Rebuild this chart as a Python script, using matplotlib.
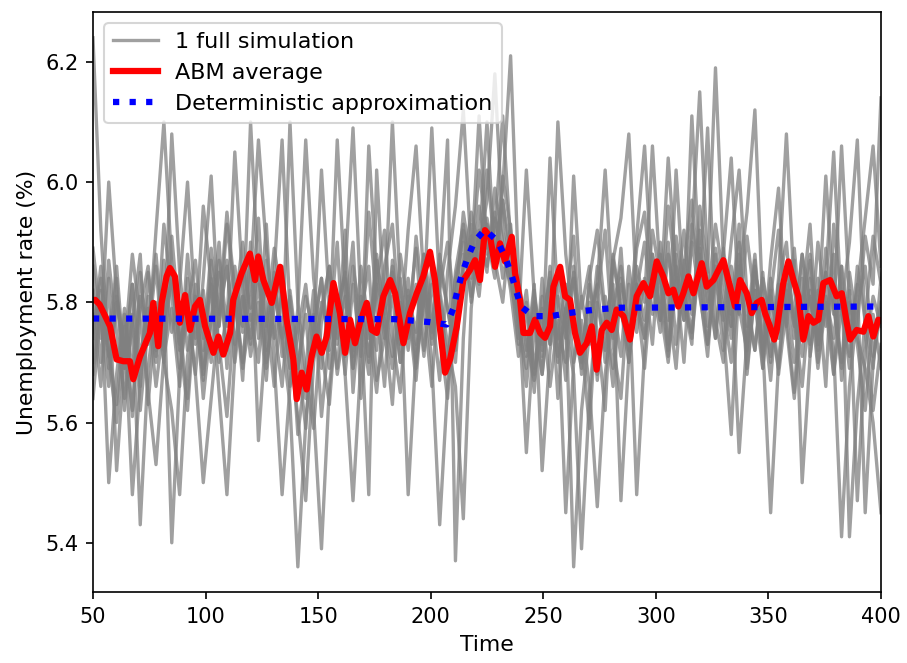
import numpy as np
import matplotlib
matplotlib.use("Agg")
import matplotlib.pyplot as plt

# time grid of the individual simulations (read every 3.5 steps)
sim_time = np.linspace(50, 400, 101)

sim_a = [6.24, 5.92, 5.71, 5.84, 5.62, 5.77, 5.66, 5.85, 5.72, 5.93,
         5.81, 5.69, 5.88, 5.74, 5.96, 5.83, 5.65, 5.48, 5.71, 5.86,
         5.79, 5.94, 5.72, 5.85, 6.07, 5.78, 5.58, 5.69, 5.82, 5.61,
         5.75, 5.90, 5.68, 5.83, 5.71, 5.95, 5.80, 5.66, 5.87, 5.74,
         5.92, 6.06, 5.83, 5.70, 5.43, 5.66, 5.79, 5.95, 5.86, 6.02,
         5.91, 5.84, 5.97, 5.88, 5.76, 5.69, 5.82, 5.71, 6.04, 5.80,
         5.67, 5.86, 5.74, 5.59, 5.81, 5.92, 5.73, 5.64, 5.83, 5.48,
         5.72, 5.88, 5.77, 5.96, 5.84, 5.70, 5.91, 6.15, 5.86, 5.74,
         5.89, 5.78, 5.93, 5.69, 5.82, 5.71, 5.87, 5.99, 5.76, 5.64,
         5.80, 5.93, 5.72, 5.85, 5.68, 5.79, 5.90, 6.07, 5.75, 5.62, 5.73]
sim_b = [5.86, 5.74, 6.00, 5.81, 5.69, 5.77, 5.88, 5.63, 5.79, 5.70,
         5.91, 5.76, 5.64, 5.83, 5.72, 5.89, 5.78, 5.95, 5.82, 5.67,
         5.90, 5.57, 5.76, 5.84, 5.71, 6.10, 5.80, 5.68, 5.59, 5.77,
         5.86, 5.73, 5.92, 5.65, 5.81, 5.70, 5.88, 5.76, 5.63, 5.84,
         5.72, 5.91, 5.79, 5.66, 5.85, 6.07, 5.37, 5.74, 5.93, 5.86,
         6.02, 5.89, 5.97, 5.84, 5.78, 5.66, 5.80, 5.72, 5.86, 5.64,
         5.79, 5.91, 5.70, 5.83, 5.75, 5.62, 5.87, 5.94, 6.08, 5.81,
         5.69, 5.85, 5.77, 5.90, 5.73, 5.86, 5.97, 5.82, 5.71, 5.88,
         5.76, 5.58, 5.84, 5.95, 6.12, 5.79, 5.67, 5.83, 5.90, 5.74,
         5.88, 5.71, 5.82, 5.66, 5.93, 5.80, 5.69, 5.86, 5.77, 5.91, 5.83]
sim_c = [5.70, 5.82, 5.50, 5.68, 5.79, 5.61, 5.85, 5.73, 5.92, 6.10,
         5.86, 5.74, 5.62, 5.80, 5.69, 5.87, 5.76, 5.93, 5.81, 5.70,
         5.84, 6.07, 5.89, 5.76, 5.66, 5.82, 5.71, 5.59, 5.78, 5.69,
         5.81, 5.68, 5.77, 5.90, 5.64, 5.79, 5.72, 5.86, 5.93, 5.75,
         5.84, 5.70, 5.80, 6.09, 5.82, 5.73, 5.66, 5.44, 5.79, 5.92,
         5.85, 5.99, 5.90, 5.82, 5.71, 5.79, 5.65, 5.84, 5.73, 6.10,
         5.88, 5.76, 5.69, 5.84, 5.92, 5.78, 5.66, 5.83, 5.74, 5.89,
         5.95, 5.81, 5.88, 5.72, 5.86, 5.79, 5.93, 5.84, 6.09, 5.77,
         5.70, 5.83, 5.55, 5.74, 5.87, 5.69, 5.81, 5.92, 5.78, 5.65,
         5.84, 5.73, 5.90, 5.79, 5.68, 5.86, 5.75, 5.82, 5.94, 6.06, 5.86]
sim_d = [5.78, 5.66, 5.84, 5.52, 5.71, 5.83, 5.62, 5.76, 5.88, 5.73,
         6.08, 5.85, 5.72, 5.81, 5.64, 5.77, 5.90, 5.69, 5.83, 5.76,
         5.88, 5.74, 5.93, 5.70, 5.48, 5.66, 5.79, 6.07, 5.84, 5.72,
         5.63, 5.80, 5.71, 5.86, 5.77, 5.68, 5.83, 5.92, 5.74, 5.65,
         5.82, 5.73, 5.88, 5.79, 5.67, 5.85, 5.96, 6.12, 5.88, 5.81,
         5.94, 5.86, 6.01, 5.92, 5.80, 5.55, 5.76, 5.68, 5.83, 5.75,
         5.70, 6.01, 5.79, 5.86, 5.67, 5.81, 5.74, 5.89, 5.70, 5.83,
         5.77, 5.92, 5.84, 5.71, 5.88, 5.80, 5.73, 5.96, 5.85, 6.19,
         5.87, 5.76, 5.90, 5.68, 5.82, 5.73, 5.45, 5.70, 5.84, 5.77,
         5.66, 5.81, 5.74, 5.89, 5.79, 5.70, 5.85, 5.76, 5.91, 5.83, 6.14]
sim_e = [5.64, 5.79, 5.71, 5.60, 5.76, 5.48, 5.67, 5.81, 5.70, 5.87,
         5.75, 5.83, 6.00, 5.78, 5.67, 5.84, 5.73, 5.61, 5.79, 5.90,
         5.77, 5.86, 5.69, 5.82, 5.74, 5.63, 5.36, 5.60, 5.75, 6.02,
         5.80, 5.69, 5.84, 5.71, 5.78, 5.86, 5.67, 5.74, 5.81, 5.70,
         5.77, 5.89, 5.72, 5.83, 5.75, 5.64, 5.81, 5.92, 5.86, 6.11,
         5.89, 5.95, 5.84, 5.91, 5.78, 5.71, 5.83, 5.52, 5.72, 5.81,
         5.74, 5.85, 5.68, 5.77, 5.83, 6.02, 5.80, 5.71, 5.86, 5.75,
         5.84, 5.73, 5.90, 5.80, 5.69, 5.87, 5.78, 5.92, 5.83, 5.74,
         5.88, 6.04, 5.79, 5.72, 5.86, 5.74, 5.82, 5.68, 5.79, 5.87,
         5.50, 5.71, 5.84, 5.76, 5.88, 5.67, 5.80, 5.73, 5.62, 5.78, 5.69]
sim_f = [5.82, 5.70, 5.87, 5.75, 5.64, 5.78, 5.43, 5.69, 5.80, 5.72,
         5.85, 5.73, 5.79, 5.68, 5.84, 6.01, 5.76, 5.87, 5.70, 5.81,
         5.73, 5.88, 5.79, 5.66, 5.83, 5.72, 5.61, 5.47, 5.70, 5.80,
         5.74, 6.07, 5.82, 5.69, 5.86, 5.76, 5.65, 5.80, 5.71, 5.88,
         5.79, 5.67, 5.84, 5.74, 5.81, 5.70, 5.85, 5.93, 5.80, 5.89,
         6.10, 5.87, 5.80, 5.93, 5.74, 5.82, 5.69, 5.79, 5.66, 5.77,
         5.45, 5.70, 5.81, 5.73, 5.86, 5.78, 5.69, 5.84, 5.76, 5.91,
         6.06, 5.83, 5.75, 5.88, 5.80, 5.92, 5.79, 5.86, 5.73, 5.84,
         5.77, 5.90, 6.02, 5.81, 5.72, 5.85, 5.70, 5.83, 5.76, 5.89,
         5.74, 5.82, 5.69, 5.80, 5.72, 5.41, 5.66, 5.79, 5.86, 5.71, 5.80]
sim_g = [5.74, 5.86, 5.69, 5.80, 5.72, 5.88, 5.77, 5.65, 5.53, 5.71,
         5.79, 5.66, 5.84, 5.73, 5.82, 5.70, 5.87, 5.76, 6.05, 5.83,
         5.71, 5.80, 5.67, 5.85, 5.74, 5.81, 5.69, 5.78, 5.62, 5.39,
         5.66, 5.78, 5.85, 6.09, 5.80, 5.71, 5.83, 5.74, 5.86, 5.70,
         5.81, 5.75, 5.88, 5.73, 5.82, 5.90, 5.78, 5.86, 5.95, 5.89,
         5.97, 6.18, 5.92, 5.85, 5.73, 5.80, 5.68, 5.76, 5.84, 5.71,
         5.79, 5.36, 5.62, 5.75, 5.83, 5.70, 5.88, 5.79, 5.72, 5.86,
         5.80, 6.06, 5.84, 5.77, 5.91, 5.82, 5.75, 5.89, 5.80, 5.93,
         5.84, 5.76, 5.88, 5.73, 5.85, 5.79, 5.71, 5.84, 6.08, 5.82,
         5.75, 5.87, 5.70, 5.81, 5.74, 5.86, 5.41, 5.63, 5.77, 5.69, 5.84]
sim_h = [5.89, 5.77, 5.66, 5.81, 5.73, 5.62, 5.79, 5.86, 5.71, 5.82,
         5.40, 5.68, 5.79, 5.87, 5.74, 5.83, 5.70, 5.78, 5.86, 5.75,
         6.10, 5.84, 5.76, 5.89, 5.80, 5.69, 5.77, 5.64, 5.75, 5.84,
         5.72, 5.81, 5.68, 5.47, 5.70, 6.06, 5.84, 5.77, 5.69, 5.80,
         5.74, 5.83, 5.71, 5.86, 5.78, 5.69, 5.84, 5.90, 5.81, 5.96,
         5.88, 5.92, 6.11, 5.90, 5.80, 5.74, 5.67, 5.81, 5.73, 5.85,
         5.76, 5.68, 5.39, 5.64, 5.80, 5.72, 5.87, 5.79, 5.70, 5.83,
         5.74, 5.88, 5.80, 6.04, 5.85, 5.77, 5.90, 5.81, 5.73, 5.86,
         5.79, 5.70, 5.83, 5.76, 5.88, 5.72, 5.81, 5.74, 5.86, 5.78,
         5.71, 5.84, 5.77, 6.01, 5.80, 5.69, 5.82, 5.47, 5.72, 5.81, 5.76]
sim_i = [5.75, 5.84, 5.72, 5.63, 5.78, 5.69, 5.81, 5.74, 5.86, 5.70,
         5.62, 5.48, 5.71, 5.80, 5.68, 5.77, 5.85, 5.72, 5.81, 5.69,
         5.78, 5.70, 5.87, 5.74, 5.82, 5.66, 5.75, 5.83, 5.71, 5.79,
         5.86, 5.74, 5.81, 5.69, 5.77, 5.48, 6.02, 5.78, 5.85, 5.73,
         5.80, 5.69, 5.84, 5.76, 5.88, 5.79, 5.72, 5.85, 5.91, 5.83,
         5.93, 5.86, 5.99, 6.21, 5.85, 5.72, 5.79, 5.68, 5.80, 5.74,
         5.83, 5.70, 5.77, 5.66, 5.46, 5.68, 5.79, 5.86, 5.74, 5.82,
         5.90, 5.78, 5.85, 5.73, 6.02, 5.81, 5.74, 5.88, 5.79, 5.85,
         5.72, 5.86, 5.78, 5.91, 5.80, 5.69, 5.84, 5.75, 5.82, 5.70,
         5.79, 5.88, 5.73, 5.84, 6.05, 5.78, 5.71, 5.83, 5.45, 5.70, 5.79]
sim_j = [5.68, 5.80, 5.74, 5.86, 5.69, 5.83, 5.71, 5.79, 5.66, 5.77,
         5.84, 5.72, 5.80, 5.68, 5.50, 5.64, 5.78, 5.86, 5.73, 5.81,
         5.74, 5.83, 5.70, 5.79, 5.86, 5.73, 5.68, 5.81, 5.75, 5.84,
         5.69, 5.78, 5.85, 5.72, 5.80, 5.74, 5.87, 5.79, 6.10, 5.82,
         5.48, 5.72, 5.81, 5.75, 5.86, 5.79, 5.70, 5.88, 5.84, 5.91,
         5.86, 5.94, 5.88, 5.83, 5.77, 6.02, 5.81, 5.73, 5.85, 5.70,
         5.79, 5.84, 5.72, 5.80, 5.68, 5.77, 5.83, 5.47, 5.71, 5.80,
         5.74, 5.86, 5.79, 5.70, 5.84, 5.77, 6.11, 5.85, 5.76, 5.89,
         5.81, 5.74, 5.86, 5.79, 5.72, 5.84, 5.77, 5.69, 5.83, 5.76,
         5.88, 5.80, 5.73, 5.85, 5.78, 6.06, 5.81, 5.74, 5.69, 5.60, 5.45]

simulations = [sim_a, sim_b, sim_c, sim_d, sim_e, sim_f, sim_g, sim_h, sim_i, sim_j]

# ABM average
abm_time = [50, 51, 53, 57.6, 60.5, 63.5, 66.4, 67.9, 70.9, 75.3, 76.8, 79, 80.5,
            82.7, 84.2, 86.4, 88.6, 90.9, 93.1, 95.3, 97.5, 99.8, 103.5, 105.7,
            107.9, 110.9, 112.3, 116, 119.7, 122, 123.4, 125.7, 129.4, 133.1, 136,
            139, 140.5, 142.7, 144.9, 147.1, 149.3, 151.6, 153.8, 156.8, 159.7, 162,
            164.2, 166.4, 168.6, 171.6, 173.8, 176, 179, 182, 184.2, 187.9, 190.8,
            193.8, 196.7, 199.7, 201.9, 204.2, 206.4, 208.6, 211.6, 214.5, 217.5,
            219.7, 221.9, 224.1, 226.4, 228.6, 230.8, 233, 236, 237.5, 239.7, 241.2,
            244.1, 246.3, 248.6, 250.8, 253, 254.5, 257.5, 259.7, 261.9, 264.1,
            266.3, 269.3, 271.5, 273.7, 276, 278.2, 280.4, 282.6, 285.6, 288.5,
            291.5, 294.5, 297.4, 300.4, 303.3, 305.6, 307.8, 310, 312.2, 314.5,
            316.7, 320.4, 322.6, 325.6, 330, 333, 335.2, 337.4, 340.4, 342.6, 344.8,
            347, 348.5, 350.7, 352.6, 353.7, 356.6, 358.9, 361.1, 363.3, 365.5,
            367.8, 370, 372.2, 374.4, 377.4, 380.3, 382.6, 384.8, 386.3, 389.2,
            392.2, 394.4, 396.6, 398.8, 400]
abm_avg = [5.804, 5.804, 5.796, 5.760, 5.705, 5.702, 5.702, 5.672, 5.710, 5.749,
           5.799, 5.727, 5.799, 5.843, 5.857, 5.843, 5.766, 5.812, 5.754, 5.793,
           5.804, 5.760, 5.716, 5.743, 5.713, 5.749, 5.804, 5.848, 5.881, 5.837,
           5.876, 5.837, 5.799, 5.859, 5.771, 5.705, 5.639, 5.683, 5.655, 5.710,
           5.743, 5.716, 5.743, 5.832, 5.782, 5.716, 5.771, 5.732, 5.766, 5.799,
           5.754, 5.749, 5.810, 5.837, 5.815, 5.732, 5.782, 5.815, 5.843, 5.884,
           5.837, 5.754, 5.683, 5.705, 5.760, 5.837, 5.854, 5.870, 5.837, 5.920,
           5.909, 5.859, 5.898, 5.868, 5.909, 5.848, 5.804, 5.749, 5.749, 5.771,
           5.749, 5.741, 5.760, 5.826, 5.859, 5.810, 5.804, 5.749, 5.716, 5.732,
           5.760, 5.688, 5.754, 5.766, 5.754, 5.788, 5.777, 5.738, 5.810, 5.832,
           5.810, 5.868, 5.843, 5.815, 5.821, 5.793, 5.815, 5.843, 5.815, 5.865,
           5.826, 5.837, 5.870, 5.826, 5.793, 5.837, 5.815, 5.782, 5.799, 5.804,
           5.782, 5.760, 5.738, 5.754, 5.832, 5.868, 5.837, 5.810, 5.738, 5.777,
           5.766, 5.771, 5.832, 5.837, 5.810, 5.815, 5.766, 5.738, 5.754, 5.751,
           5.777, 5.743, 5.771, 5.770]

# deterministic approximation
det_time = [50, 184.2, 199.7, 207.1, 210.1, 211.8, 213.8, 216.3, 219.4, 224.1,
            229.6, 233, 235.7, 237.8, 240.1, 245.6, 253.5, 261.2, 269, 276.7,
            284.1, 400]
det_val = [5.773, 5.772, 5.767, 5.763, 5.790, 5.818, 5.846, 5.873, 5.901, 5.921,
           5.902, 5.876, 5.848, 5.821, 5.793, 5.777, 5.777, 5.782, 5.786, 5.789,
           5.791, 5.793]

fig = plt.figure(figsize=(907 / 150, 663 / 150), dpi=150)
ax = fig.add_axes([0.1025, 0.107, 0.8688, 0.875])

for i, sim in enumerate(simulations):
    ax.plot(sim_time, sim, color='grey', alpha=0.75, linewidth=1.6,
            label='1 full simulation' if i == 0 else None)
ax.plot(abm_time, abm_avg, color='red', linewidth=3, label='ABM average')
ax.plot(det_time, det_val, color='blue', linestyle=':', linewidth=3,
        label='Deterministic approximation')

ax.set_xlim(50, 400)
ax.set_ylim(5.318, 6.283)
ax.set_xlabel('Time', fontsize=10.5)
ax.set_ylabel('Unemployment rate (%)', fontsize=10.5)
ax.legend(loc='upper left', fontsize=10.7)

fig.savefig('out.png', dpi=150)
